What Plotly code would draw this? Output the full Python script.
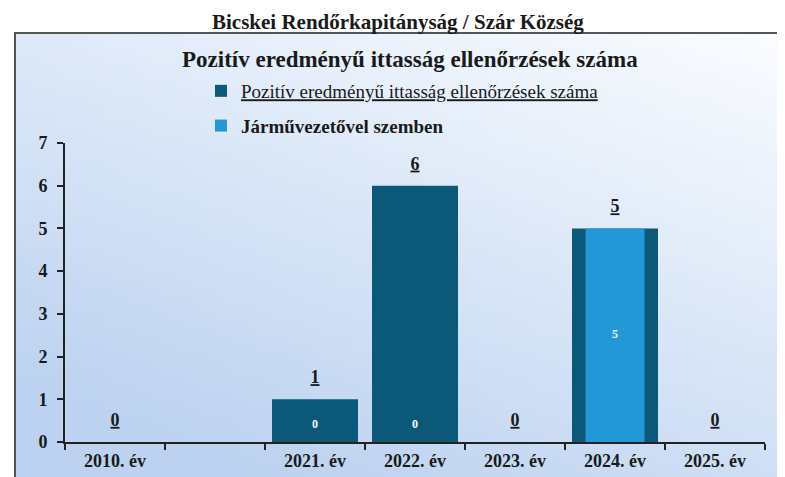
import base64
import struct
import zlib

import plotly.graph_objects as go

# ---------------- data ----------------
categories = ["2010. év", " ", "2021. év", "2022. év", "2023. év", "2024. év", "2025. év"]
total_values = [0, None, 1, 6, 0, 5, 0]          # Pozitív eredményű ittasság ellenőrzések száma
driver_values = [None, None, 0, 0, None, 5, None]  # Járművezetővel szemben
y_ticks = [0, 1, 2, 3, 4, 5, 6, 7]

outer_title = "Bicskei Rendőrkapitányság / Szár Község"
chart_title = "Pozitív eredményű ittasság ellenőrzések száma"
name_total = "Pozitív eredményű ittasság ellenőrzések száma"
name_driver = "Járművezetővel szemben"

DARK = "#0c5878"
LIGHT = "#2497d6"
FONT = "Liberation Serif, Times New Roman, serif"

W, H = 785, 477
OFF = 8  # page body margin offset
# plot area in reference pixel coordinates
PX0, PX1, PY0, PY1 = 65, 765, 143, 442
L = PX0 - OFF
R = W - (PX1 - OFF)
T = PY0 - OFF
B = H - (PY1 - OFF)
PW, PH = W - L - R, H - T - B


def px_x(px):
    return (px - OFF - L) / PW


def px_y(py):
    return (H - B - (py - OFF)) / PH


# ---------------- gradient background image ----------------
def make_png(w, h):
    top = (251, 253, 255)
    bot = (188, 210, 240)
    rows = []
    for j in range(h):
        row = bytearray([0])
        v = j / (h - 1)
        for i in range(w):
            u = i / (w - 1)
            t = min(1.0, max(0.0, 0.70 * v + 0.45 * (1 - u)))
            row += bytes(int(round(a + (b - a) * t)) for a, b in zip(top, bot))
        rows.append(bytes(row))
    raw = b"".join(rows)

    def chunk(tag, data):
        c = struct.pack(">I", len(data)) + tag + data
        return c + struct.pack(">I", zlib.crc32(tag + data) & 0xFFFFFFFF)

    return (b"\x89PNG\r\n\x1a\n"
            + chunk(b"IHDR", struct.pack(">IIBBBBB", w, h, 8, 2, 0, 0, 0))
            + chunk(b"IDAT", zlib.compress(raw))
            + chunk(b"IEND", b""))


bg_uri = "data:image/png;base64," + base64.b64encode(make_png(48, 48)).decode()

fig = go.Figure()

fig.add_trace(go.Bar(
    x=categories, y=total_values, name="<u>" + name_total + "</u>",
    marker=dict(color=DARK, line=dict(width=0)), width=0.86,
    textposition="none", legendgroup="a", hoverinfo="skip",
))
fig.add_trace(go.Bar(
    x=categories, y=driver_values, name="<b>" + name_driver + "</b>",
    marker=dict(color=LIGHT, line=dict(width=0)), width=0.59,
    textposition="none", legendgroup="b", hoverinfo="skip",
))

# value labels of the total series, above the bars
tot_x = [c for c, v in zip(categories, total_values) if v is not None]
tot_v = [v for v in total_values if v is not None]
fig.add_trace(go.Scatter(
    x=tot_x, y=tot_v, mode="markers+text",
    marker=dict(size=17, opacity=0),
    text=["<u>%d</u>" % v for v in tot_v], textposition="top center",
    textfont=dict(family=FONT, size=18, color="#1a1a1a", weight="bold"),
    showlegend=False, hoverinfo="skip", cliponaxis=False,
))

# labels of the inner series (centred on the bar, sitting on the base for zero)
lab_x = [c for c, v in zip(categories, driver_values) if v is not None]
lab_v = [v for v in driver_values if v is not None]
fig.add_trace(go.Scatter(
    x=lab_x, y=[v / 2 for v in lab_v], mode="markers+text",
    marker=dict(size=16, opacity=0),
    text=["%d" % v for v in lab_v],
    textposition=["middle center" if v > 0 else "top center" for v in lab_v],
    textfont=dict(family=FONT, size=12, color="white", weight="bold"),
    showlegend=False, hoverinfo="skip", cliponaxis=False,
))

fig.update_layout(
    width=W, height=H,
    margin=dict(l=L, r=R, t=T, b=B, autoexpand=False),
    paper_bgcolor="white", plot_bgcolor="rgba(0,0,0,0)",
    barmode="overlay",
    font=dict(family=FONT, color="#1a1a1a"),
    showlegend=True,
    legend=dict(
        x=px_x(201), y=px_y(72), xanchor="left", yanchor="top",
        bgcolor="rgba(0,0,0,0)", font=dict(family=FONT, size=19, color="#1a1a1a"),
        traceorder="grouped", tracegroupgap=7, itemwidth=30,
    ),
    xaxis=dict(
        type="category", categoryorder="array", categoryarray=categories,
        tickson="boundaries", ticks="outside", ticklen=6, tickwidth=2, tickcolor="#222",
        showline=True, linecolor="#222", linewidth=2, showgrid=False, zeroline=False,
        tickfont=dict(family=FONT, size=18, color="#1a1a1a", weight="bold"),
        ticklabelstandoff=1, fixedrange=True, automargin=False,
    ),
    yaxis=dict(
        range=[0, 7], tickvals=y_ticks, ticks="outside", ticklen=6, tickwidth=2,
        tickcolor="#222", showline=True, linecolor="#222", linewidth=2,
        showgrid=False, zeroline=False,
        tickfont=dict(family=FONT, size=18, color="#1a1a1a", weight="bold"),
        ticklabelstandoff=6, fixedrange=True, automargin=False,
    ),
    images=[dict(
        source=bg_uri, xref="paper", yref="paper",
        x=px_x(15), y=px_y(33), sizex=px_x(800) - px_x(15), sizey=px_y(33) - px_y(490),
        xanchor="left", yanchor="top", sizing="stretch", layer="below",
    )],
    shapes=[dict(
        type="rect", xref="paper", yref="paper",
        x0=px_x(15), x1=px_x(830), y0=px_y(530), y1=px_y(33),
        line=dict(color="#555", width=2), fillcolor="rgba(0,0,0,0)", layer="above",
    )],
    annotations=[
        dict(text=outer_title, xref="paper", yref="paper",
             x=px_x(398), y=px_y(8), showarrow=False, xanchor="center", yanchor="top",
             font=dict(family=FONT, size=21, color="#1a1a1a", weight="bold")),
        dict(text=chart_title, xref="paper", yref="paper",
             x=px_x(410), y=px_y(60), showarrow=False, xanchor="center", yanchor="middle",
             font=dict(family=FONT, size=23, color="#1a1a1a", weight="bold")),
    ],
)

fig.write_html("out.html")
